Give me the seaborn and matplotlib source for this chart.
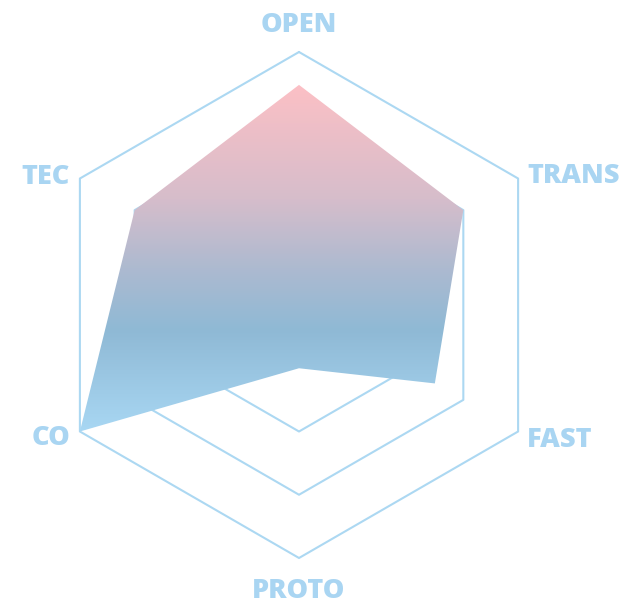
import numpy as np
import pandas as pd
import matplotlib
matplotlib.use("Agg")
import matplotlib.pyplot as plt
import seaborn as sns
from matplotlib.colors import LinearSegmentedColormap
from matplotlib.patches import Polygon

# data
labels = ["OPEN", "TRANS", "FAST", "PROTO", "CO", "TEC"]
values = [87, 75, 62, 25, 100, 75]
levels = [50, 75, 100]
max_value = 100

line_color = "#acd8f2"
label_color = "#a9d5f2"
# gradient stops, bottom -> top
grad_stops = [(0.0, "#a8d7f3"), (0.29, "#8fb9d5"), (0.47, "#adbad0"),
              (0.67, "#d6bdcb"), (1.0, "#fcc0c5")]

sns.set_theme(style="white")
plt.rcParams["font.family"] = ["Open Sans", "DejaVu Sans"]

# clockwise from the top
angles = np.deg2rad(90 - 60 * np.arange(len(labels)))


def to_xy(vals):
    r = np.asarray(vals, dtype=float) / max_value
    return r * np.cos(angles), r * np.sin(angles)


fig = plt.figure(figsize=(6.28, 6.04), dpi=100)
ax = fig.add_axes([0, 0, 1, 1])
R = 253.0
ax.set_xlim(-299 / R, 329 / R)
ax.set_ylim(-299 / R, 305 / R)
ax.set_axis_off()

# hexagon grid
for lev in levels:
    gx, gy = to_xy([lev] * len(labels))
    ring = pd.DataFrame({"x": np.append(gx, gx[0]), "y": np.append(gy, gy[0])})
    sns.lineplot(data=ring, x="x", y="y", sort=False, estimator=None,
                 color=line_color, linewidth=1.5, ax=ax, zorder=1)

# data polygon with vertical gradient
px, py = to_xy(values)
poly = Polygon(np.column_stack([px, py]), closed=True, facecolor="none",
               edgecolor="none")
ax.add_patch(poly)
cmap = LinearSegmentedColormap.from_list("grad", grad_stops)
grad = np.linspace(0, 1, 256).reshape(-1, 1)
im = ax.imshow(grad, cmap=cmap, origin="lower", aspect="auto",
               extent=[px.min(), px.max(), py.min(), py.max()], zorder=2,
               interpolation="bilinear")
im.set_clip_path(poly)

# axis names
ox, oy = to_xy([max_value] * len(labels))
offsets = [(0, 20, "center"), (9, -4.5, "left"), (9, -15.5, "left"),
           (0, -40, "center"), (-10, -14, "right"), (-10, -5.5, "right")]
for lab, x, y, (dx, dy, ha) in zip(labels, ox, oy, offsets):
    ax.annotate(lab, xy=(x, y), xytext=(dx, dy), textcoords="offset pixels",
                ha=ha, va="baseline", fontsize=19.5, fontweight="heavy",
                color=label_color)

ax.set_xlabel("")
ax.set_ylabel("")
fig.savefig("out.png", dpi=100)
